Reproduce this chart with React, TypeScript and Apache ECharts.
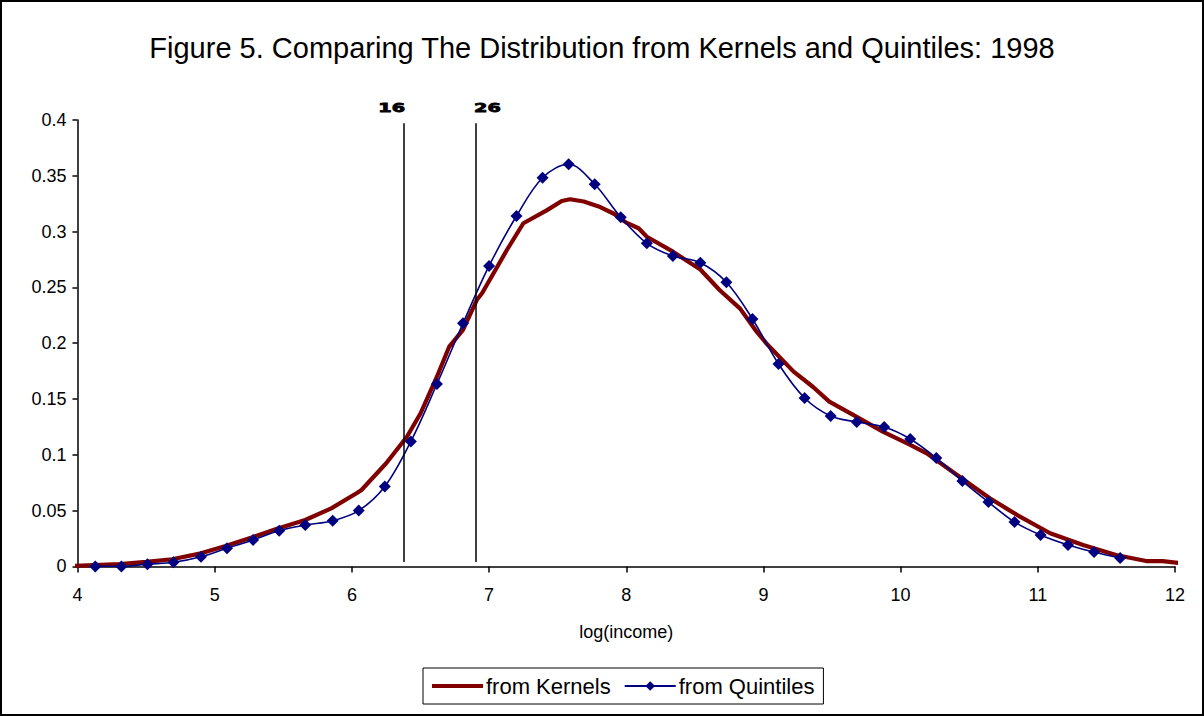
import React, { useEffect, useRef } from "react";
import * as echarts from "echarts";

// kernel density estimate
const kernelX = [
  3.96, 4.31, 4.5, 4.69, 4.9, 5.08, 5.27, 5.46, 5.66, 5.85, 6.04, 6.07, 6.25, 6.4,
  6.5, 6.62, 6.71, 6.81, 6.91, 6.95, 7.13, 7.25, 7.42, 7.53, 7.59, 7.69, 7.81, 7.91,
  8.0, 8.09, 8.15, 8.34, 8.54, 8.68, 8.83, 8.94, 9.02, 9.22, 9.36, 9.48, 9.68, 9.87,
  10.07, 10.19, 10.31, 10.48, 10.65, 10.77, 10.85, 11.09, 11.33, 11.57, 11.79, 11.91,
  12.05,
];
const kernelY = [
  0.0004, 0.002, 0.004, 0.0064, 0.0117, 0.0183, 0.026, 0.034, 0.0416, 0.052, 0.066,
  0.0685, 0.0924, 0.116, 0.137, 0.17, 0.197, 0.212, 0.2387, 0.245, 0.2835, 0.3075,
  0.319, 0.3274, 0.329, 0.327, 0.322, 0.316, 0.308, 0.303, 0.2954, 0.282, 0.266,
  0.2477, 0.231, 0.212, 0.2, 0.1745, 0.161, 0.1476, 0.134, 0.1207, 0.1088, 0.1013,
  0.0909, 0.0759, 0.061, 0.052, 0.046, 0.0297, 0.0192, 0.0102, 0.0048, 0.0048, 0.0028,
];

// distribution from quintiles
const quintileX = [
  4.13, 4.32, 4.51, 4.7, 4.9, 5.09, 5.28, 5.47, 5.66, 5.86, 6.05, 6.24, 6.43, 6.62,
  6.81, 7.0, 7.2, 7.39, 7.58, 7.77, 7.96, 8.15, 8.34, 8.54, 8.73, 8.92, 9.11, 9.3,
  9.49, 9.68, 9.88, 10.07, 10.26, 10.45, 10.64, 10.83, 11.02, 11.22, 11.41, 11.6,
];
const quintileY = [
  0.0, 0.0, 0.002, 0.0037, 0.0087, 0.0163, 0.0237, 0.032, 0.037, 0.0409, 0.05, 0.0716,
  0.112, 0.1634, 0.2178, 0.2692, 0.314, 0.3483, 0.3603, 0.3424, 0.3128, 0.2895,
  0.2781, 0.2721, 0.2546, 0.2217, 0.1814, 0.1509, 0.1348, 0.1294, 0.1249, 0.1142,
  0.0971, 0.0765, 0.0577, 0.0398, 0.0281, 0.0192, 0.0129, 0.0075,
];

// vertical cut-off lines and their labels
const cutoffX = [6.38, 6.905];
const cutoffLabels = ["16", "26"];
const cutoffBottom = 0.004;
const cutoffTop = 0.397;

const FONT = "'Liberation Sans', Arial, sans-serif";

const App = () => {
  const chartRef = useRef<HTMLDivElement>(null);

  useEffect(() => {
    if (!chartRef.current) return;
    const chart = echarts.init(chartRef.current, undefined, { renderer: "svg" });

    const option: any = {
      animation: false,
      backgroundColor: "#fff",
      textStyle: { fontFamily: FONT },
      title: {
        text: "Figure 5. Comparing The Distribution from Kernels and Quintiles: 1998",
        left: "center",
        top: 28,
        textStyle: { fontFamily: FONT, fontSize: 29, fontWeight: "normal", color: "#000" },
      },
      legend: {
        left: 423,
        top: 668,
        padding: [7, 9],
        itemGap: 13,
        itemWidth: 51,
        itemHeight: 12,
        borderColor: "#000",
        borderWidth: 1,
        textStyle: { fontFamily: FONT, fontSize: 22, color: "#000", padding: [0, 0, 0, -2] },
        data: [
          { name: "from Kernels", icon: "path://M0,0L51,0L51,4L0,4Z" },
          "from Quintiles",
        ],
      },
      grid: { left: 77.5, right: 29, top: 120, bottom: 149.6 },
      xAxis: {
        type: "value",
        min: 4,
        max: 12,
        interval: 1,
        name: "log(income)",
        nameLocation: "middle",
        nameGap: 57,
        nameTextStyle: { fontFamily: FONT, fontSize: 18, color: "#000" },
        axisLine: { onZero: false, lineStyle: { color: "#000", width: 1.5 } },
        axisTick: { length: 6, lineStyle: { color: "#000", width: 1.5 } },
        axisLabel: { fontFamily: FONT, fontSize: 18, color: "#000", margin: 20 },
        splitLine: { show: false },
      },
      yAxis: {
        type: "value",
        min: 0,
        max: 0.4,
        interval: 0.05,
        axisLine: { show: true, lineStyle: { color: "#000", width: 1.5 } },
        axisTick: { show: true, length: 5, lineStyle: { color: "#000", width: 1.5 } },
        axisLabel: { fontFamily: FONT, fontSize: 18, color: "#000", margin: 11 },
        splitLine: { show: false },
      },
      series: [
        {
          name: "from Kernels",
          type: "line",
          data: kernelX.map((x, i) => [x, kernelY[i]]),
          symbol: "none",
          clip: false,
          color: "#800000",
          lineStyle: { color: "#800000", width: 4.2 },
          z: 2,
          markLine: {
            silent: true,
            symbol: "none",
            label: { show: false },
            lineStyle: { color: "#000", width: 1.5, type: "solid" },
            data: cutoffX.map((x) => [
              { coord: [x, cutoffBottom] },
              { coord: [x, cutoffTop] },
            ]),
            z: 5,
          },
        },
        {
          name: "from Quintiles",
          type: "line",
          data: quintileX.map((x, i) => [x, quintileY[i]]),
          smooth: 0.35,
          symbol: "diamond",
          symbolSize: 12,
          color: "#000080",
          itemStyle: { color: "#000080" },
          lineStyle: { color: "#000080", width: 1.6 },
          z: 3,
        },
      ],
      graphic: [
        {
          type: "rect",
          silent: true,
          z: -1,
          shape: { x: 1, y: 1, width: 1202, height: 714 },
          style: { fill: "none", stroke: "#000", lineWidth: 2 },
        },
      ],
    };

    chart.setOption(option);

    // place the cut-off labels just above the lines
    const labels = cutoffX.map((x, i) => {
      const p = chart.convertToPixel({ gridIndex: 0 }, [x, cutoffTop]) as number[];
      const left = i === 0;
      return {
        type: "text",
        silent: true,
        x: left ? p[0] + 1 : p[0] - 2,
        y: 108,
        scaleX: 1.6,
        style: {
          text: cutoffLabels[i],
          fontFamily: "'DejaVu Sans', sans-serif",
          fontSize: 12,
          fontWeight: "bold",
          fill: "#000",
          stroke: "#000",
          lineWidth: 0.8,
          align: left ? "right" : "left",
          verticalAlign: "middle",
        },
      };
    });
    chart.setOption({ graphic: [option.graphic[0], ...labels] });

    return () => {
      chart.dispose();
    };
  }, []);

  return (
    <div
      ref={chartRef}
      style={{ position: "absolute", left: 0, top: 0, width: 1204, height: 716 }}
    />
  );
};

export default App;
